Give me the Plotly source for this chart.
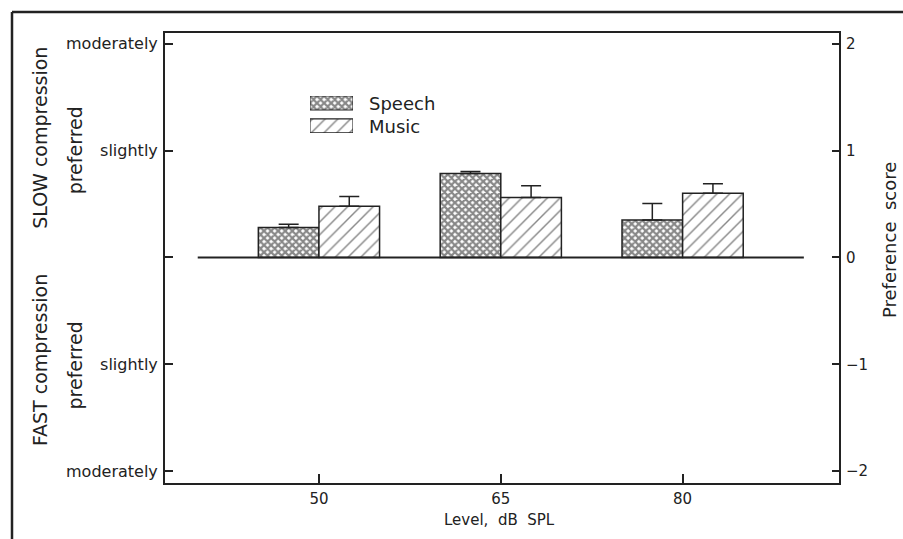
import plotly.graph_objects as go

# Presentation levels (dB SPL) and mean preference scores
levels = [50, 65, 80]
speech_scores = [0.28, 0.785, 0.35]
speech_err = [0.03, 0.02, 0.155]
music_scores = [0.48, 0.56, 0.60]
music_err = [0.09, 0.11, 0.09]

# Left-axis verbal labels and right-axis numeric ticks
score_ticks = [-2, -1, 0, 1, 2]
verbal_labels = ["moderately", "slightly", "", "slightly", "moderately"]

FONT = "DejaVu Sans"
INK = "#222222"
NB = "\u00a0"

speech_pattern = dict(shape="x", size=5, solidity=0.7, fgcolor="#111111", bgcolor="white")
music_pattern = dict(shape="/", size=9, solidity=0.16, fgcolor="#111111", bgcolor="white")
outline = dict(color=INK, width=1.5)
bar_w = 5

fig = go.Figure()

fig.add_trace(go.Bar(
    x=levels, y=speech_scores, width=bar_w, offset=-bar_w,
    marker=dict(color="white", pattern=speech_pattern, line=outline),
    error_y=dict(type="data", array=speech_err, arrayminus=[0] * 3, symmetric=False,
                 width=10, thickness=1.5, color=INK),
    name="Speech", showlegend=False,
))
fig.add_trace(go.Bar(
    x=levels, y=music_scores, width=bar_w, offset=0,
    marker=dict(color="white", pattern=music_pattern, line=outline),
    error_y=dict(type="data", array=music_err, arrayminus=[0] * 3, symmetric=False,
                 width=10, thickness=1.5, color=INK),
    name="Music", showlegend=False,
))

# Legend swatches drawn on a small hidden axis pair
fig.add_trace(go.Bar(
    x=[0.5], y=[0.38], base=[0.62], width=[1], xaxis="x3", yaxis="y3",
    marker=dict(color="white", pattern=speech_pattern, line=dict(color=INK, width=1.2)),
    showlegend=False, hoverinfo="skip",
))
fig.add_trace(go.Bar(
    x=[0.5], y=[0.38], base=[0.0], width=[1], xaxis="x3", yaxis="y3",
    marker=dict(color="white", pattern=music_pattern, line=dict(color=INK, width=1.2)),
    showlegend=False, hoverinfo="skip",
))

axis_common = dict(
    showline=True, linecolor=INK, linewidth=2, ticks="inside", tickcolor=INK,
    tickwidth=1.5, showgrid=False, zeroline=False,
)

fig.update_layout(
    width=903, height=539,
    margin=dict(l=165, r=64, t=33, b=56),
    paper_bgcolor="white", plot_bgcolor="white",
    barmode="overlay",
    showlegend=False,
    xaxis=dict(range=[37.3, 92.9], tickvals=levels, ticklen=9, mirror=True,
               ticklabelstandoff=1, tickfont=dict(family=FONT, size=15, color=INK),
               **axis_common),
    yaxis=dict(range=[-2.11, 2.10], tickvals=score_ticks, ticktext=verbal_labels,
               ticklen=8, ticklabelstandoff=2,
               tickfont=dict(family=FONT, size=16, color=INK), **axis_common),
    yaxis2=dict(range=[-2.11, 2.10], tickvals=score_ticks, overlaying="y", side="right",
                ticklen=7, ticklabelstandoff=2,
                tickfont=dict(family=FONT, size=15, color=INK), **axis_common),
    xaxis3=dict(domain=[0.215, 0.279], range=[0, 1], anchor="y3", visible=False),
    yaxis3=dict(domain=[0.778, 0.86], range=[0, 1], anchor="x3", visible=False),
)

# Reference line at zero preference
fig.add_shape(type="line", xref="x", yref="y", x0=40, x1=90, y0=0, y1=0,
              line=dict(color=INK, width=2))

# Outer frame (top and left edges)
fig.add_shape(type="line", xref="paper", yref="paper", x0=-0.227, x1=1.12,
              y0=1.0467, y1=1.0467, line=dict(color=INK, width=2.5))
fig.add_shape(type="line", xref="paper", yref="paper", x0=-0.227, x1=-0.227,
              y0=1.0467, y1=-0.15, line=dict(color=INK, width=2.5))

# Right-hand y-axis placeholder trace so the axis is drawn
fig.add_trace(go.Scatter(x=[None], y=[None], yaxis="y2", showlegend=False))


def note(text, x, y, size, angle=0, xanchor="center"):
    fig.add_annotation(text=text, x=x, y=y, xref="paper", yref="paper",
                       showarrow=False, textangle=angle, xanchor=xanchor,
                       yanchor="middle", font=dict(family=FONT, size=size, color=INK))


note("Speech", 0.2997, 0.844, 18, xanchor="left")
note("Music", 0.2997, 0.793, 18, xanchor="left")
note("SLOW" + NB + "compression", -0.1855, 0.767, 19, angle=-90)
note("preferred", -0.133, 0.74, 19, angle=-90)
note("FAST" + NB + "compression", -0.1855, 0.273, 19, angle=-90)
note("preferred", -0.133, 0.262, 19, angle=-90)
note("Preference" + NB * 2 + "score", 1.0757, 0.54, 18, angle=-90)
note("Level," + NB * 2 + "dB" + NB * 2 + "SPL", 0.497, -0.082, 15)

fig.write_html("out.html")
